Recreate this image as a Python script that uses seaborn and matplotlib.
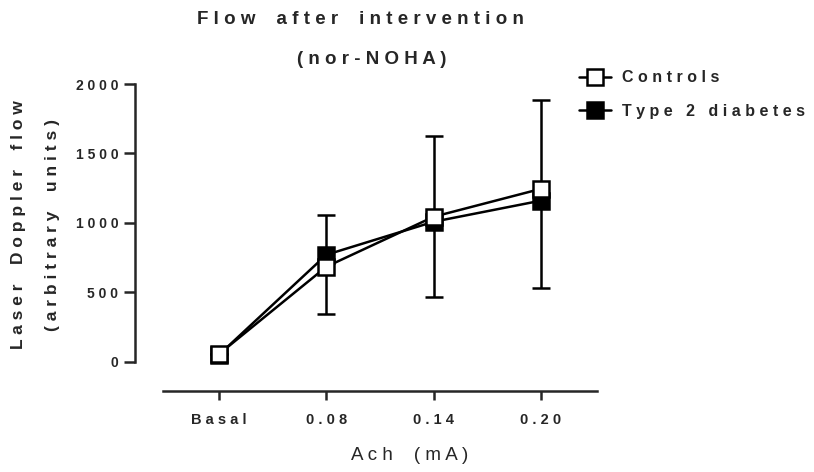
import numpy as np
import pandas as pd
import matplotlib
matplotlib.use("Agg")
import matplotlib.pyplot as plt
from matplotlib.lines import Line2D
import seaborn as sns

# data
categories = ["Basal", "0.08", "0.14", "0.20"]
controls = [55, 684, 1044, 1245]
diabetes = [50, 770, 1008, 1160]
ctrl_err_low = [55, 343, 464, 533]     # lower end of error bar
ctrl_err_high = [55, 1054, 1627, 1884]  # upper end of error bar
y_ticks = [0, 500, 1000, 1500, 2000]


def spaced(s, wide=True):
    # Prism-like letter spacing
    out = " ".join(s)
    if wide:
        out = out.replace("   ", "    ")
    return out


sns.set_style("ticks")
plt.rcParams["font.family"] = ["Liberation Sans", "DejaVu Sans"]

pos = np.arange(len(categories))
df = pd.DataFrame({
    "pos": np.concatenate([pos, pos]),
    "value": diabetes + controls,
    "group": ["Type 2 diabetes"] * len(pos) + ["Controls"] * len(pos),
})

fig = plt.figure(figsize=(8.14, 4.72), dpi=100)
ax = fig.add_axes([135 / 814, 1 - 391 / 472, (597 - 135) / 814, (391 - 84) / 472])

# error bars (controls)
mid = np.array(controls)
yerr = [mid - np.array(ctrl_err_low), np.array(ctrl_err_high) - mid]
ax.errorbar(pos, mid, yerr=yerr, fmt="none", ecolor="black", elinewidth=1.8,
            capsize=6.5, capthick=1.8, zorder=1)

sns.lineplot(data=df, x="pos", y="value", hue="group", style="group",
             hue_order=["Type 2 diabetes", "Controls"],
             palette=["black", "black"], markers=["s", "s"], dashes=False,
             markersize=11, markeredgewidth=1.8, markeredgecolor="black",
             linewidth=1.8, legend=False, ax=ax, zorder=3)
lines = [l for l in ax.get_lines() if l.get_marker() == "s"]
lines[0].set_markerfacecolor("black")
lines[1].set_markerfacecolor("white")

y_per_px = 2000 / (361.7 - 84)
ax.set_ylim(-(391 - 361.7) * y_per_px, 2000)
ax.set_xlim(-(219 - 135) / 107.3, 3 + (597 - 541) / 107.3)

ax.set_yticks(y_ticks)
ax.set_yticklabels([spaced(str(t)) for t in y_ticks], fontsize=10, fontweight="bold")
ax.set_xticks(pos)
ax.set_xticklabels([spaced(c) for c in categories], fontsize=10.5, fontweight="bold")
ax.tick_params(axis="y", length=8, width=1.8, pad=4)
ax.tick_params(axis="x", length=6.5, width=1.8, pad=9)

for s in ["top", "right"]:
    ax.spines[s].set_visible(False)
ax.spines["left"].set_linewidth(1.8)
ax.spines["bottom"].set_linewidth(1.8)
ax.spines["left"].set_bounds(0, 2000)
ax.spines["bottom"].set_bounds(-(219 - 163) / 107.3, 3 + (597 - 541) / 107.3)

ax.set_xlabel("")
ax.set_ylabel("")

# title, axis labels
fig.text(360 / 814, 1 - 20 / 472, spaced("Flow after intervention"), ha="center",
         va="center", fontsize=13.5, fontweight="bold")
fig.text(372 / 814, 1 - 60 / 472, spaced("(nor-NOHA)"), ha="center",
         va="center", fontsize=13.5, fontweight="bold")
fig.text(19 / 814, 1 - 225 / 472, spaced("Laser Doppler flow"), ha="center",
         va="center", rotation=90, fontsize=12.5, fontweight="bold")
fig.text(53 / 814, 1 - 225 / 472, spaced("(arbitrary units)"), ha="center",
         va="center", rotation=90, fontsize=12.5, fontweight="bold")
fig.text(410 / 814, 1 - 456 / 472, spaced("Ach (mA)"), ha="center",
         va="center", fontsize=13.5)

handles = [
    Line2D([], [], color="black", marker="s", markersize=11, markeredgewidth=1.8,
           markerfacecolor="white", linewidth=1.8),
    Line2D([], [], color="black", marker="s", markersize=11, markeredgewidth=1.8,
           markerfacecolor="black", linewidth=1.8),
]
leg = fig.legend(handles, [spaced("Controls", False), spaced("Type 2 diabetes", False)],
                 loc="upper left", bbox_to_anchor=(565 / 814, 1 - 56 / 472),
                 frameon=False, handlelength=2.0, handletextpad=0.65,
                 labelspacing=1.15, prop={"size": 11.5, "weight": "bold"})

fig.savefig("out.png", dpi=100)
